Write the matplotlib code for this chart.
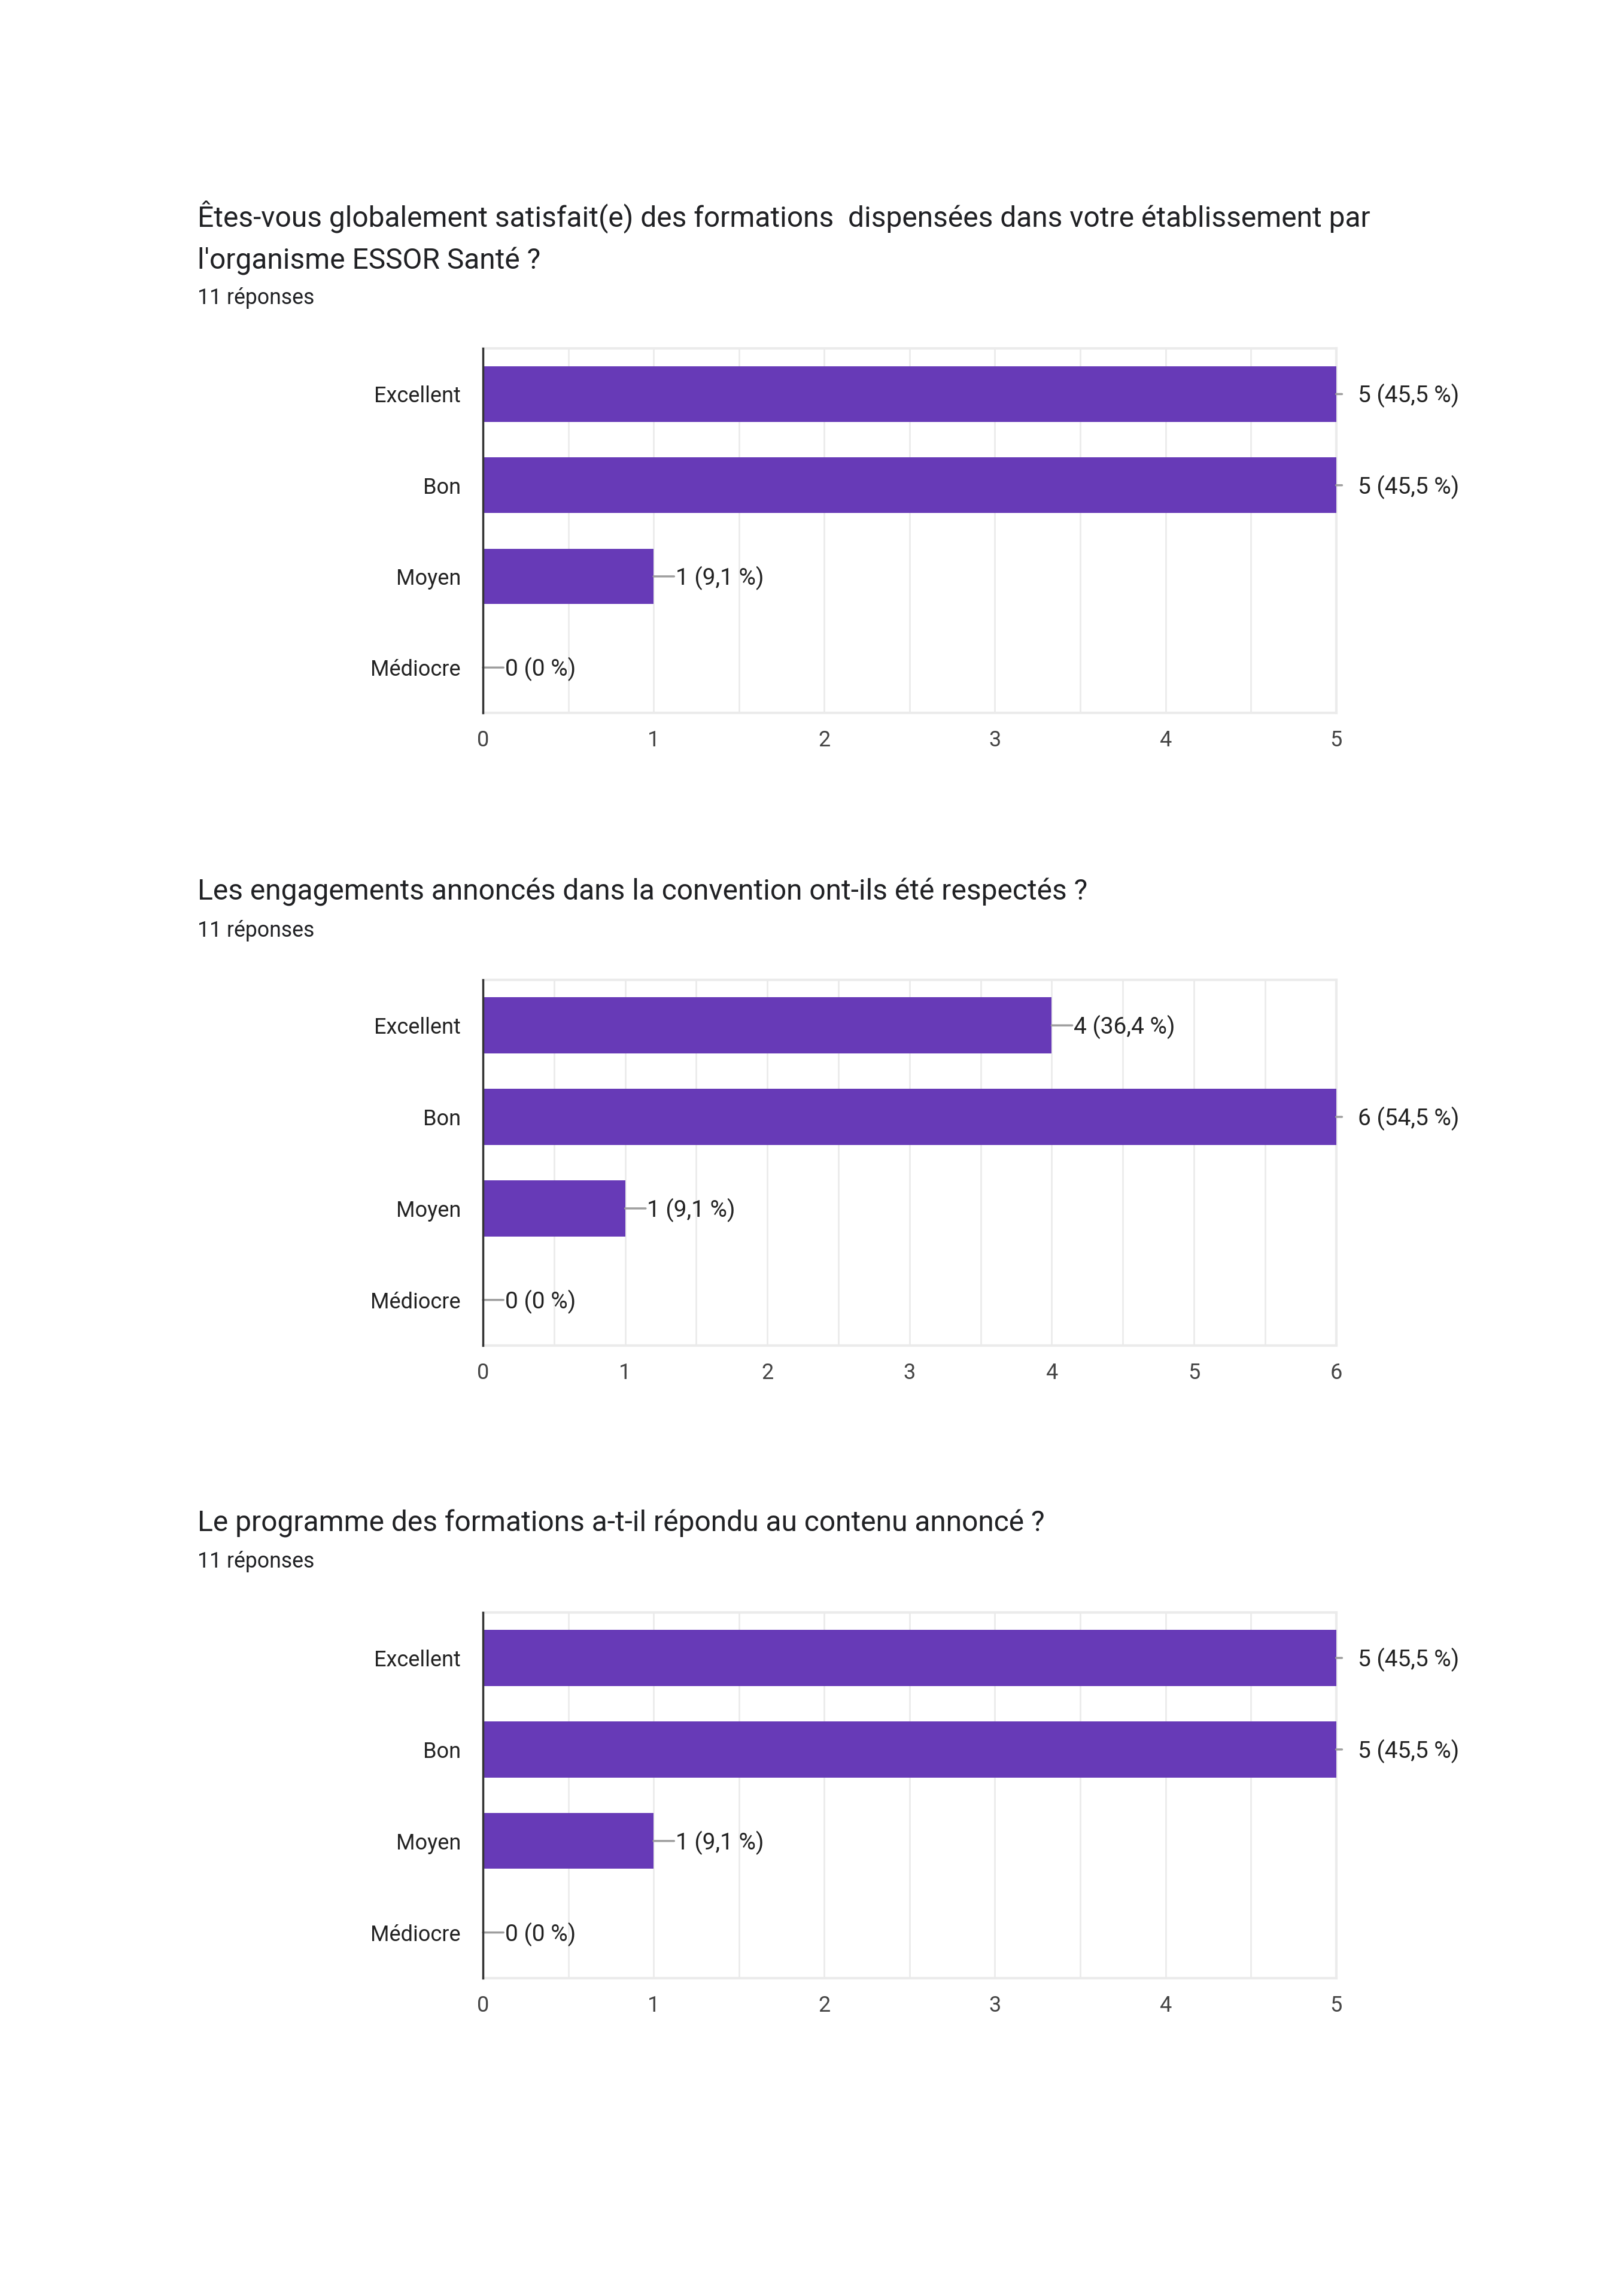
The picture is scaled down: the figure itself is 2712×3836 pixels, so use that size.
import matplotlib
matplotlib.use("Agg")
import matplotlib.pyplot as plt
from matplotlib.ticker import MultipleLocator

plt.rcParams['font.family'] = ['Roboto', 'DejaVu Sans']

categories = ["Excellent", "Bon", "Moyen", "Médiocre"]
titles = [
    ["Êtes-vous globalement satisfait(e) des formations  dispensées dans votre établissement par",
     "l'organisme ESSOR Santé ?"],
    ["Les engagements annoncés dans la convention ont-ils été respectés ?"],
    ["Le programme des formations a-t-il répondu au contenu annoncé ?"],
]
responses = ["11 réponses", "11 réponses", "11 réponses"]
values_q1 = [5, 5, 1, 0]
values_q2 = [4, 6, 1, 0]
values_q3 = [5, 5, 1, 0]
pct_q1 = ["45,5", "45,5", "9,1", "0"]
pct_q2 = ["36,4", "54,5", "9,1", "0"]
pct_q3 = ["45,5", "45,5", "9,1", "0"]
xmax_list = [5, 6, 5]

W, H = 2712, 3836
SW, SH = 1109, 1568  # reference preview coordinates
fig = plt.figure(figsize=(W / 100, H / 100), dpi=100)
fig.patch.set_facecolor("white")

def fx(x):
    return x / SW

def fy(y):
    return 1 - y / SH

# layout in preview coordinates
blocks = [
    dict(title_y=[148, 178], resp_y=203, top=238, bottom=487),
    dict(title_y=[609], resp_y=635, top=669, bottom=919),
    dict(title_y=[1040], resp_y=1066, top=1101, bottom=1351),
]
left, right = 330, 913
BAR = "#673AB7"
GRID = "#ebebeb"

all_vals = [values_q1, values_q2, values_q3]
all_pct = [pct_q1, pct_q2, pct_q3]

for i, b in enumerate(blocks):
    for line, ty in zip(titles[i], b["title_y"]):
        fig.text(fx(135), fy(ty + 0.3), line, fontsize=34.5, color="#202124",
                 ha="left", va="center")
    fig.text(fx(135), fy(b["resp_y"] + 0.5), responses[i], fontsize=25.7,
             color="#202124", ha="left", va="center")

    ax = fig.add_axes([fx(left), fy(b["bottom"]), fx(right) - fx(left),
                       fy(b["top"]) - fy(b["bottom"])])
    vals = all_vals[i]
    pcts = all_pct[i]
    xmax = xmax_list[i]
    ypos = list(range(len(categories)))
    ax.barh(ypos, vals, height=0.61, color=BAR, zorder=3)
    ax.set_xlim(0, xmax)
    ax.set_ylim(len(categories) - 0.5, -0.5)
    ax.set_yticks(ypos)
    ax.set_yticklabels(categories)
    ax.xaxis.set_major_locator(MultipleLocator(1))
    ax.xaxis.set_minor_locator(MultipleLocator(0.5))
    ax.grid(axis="x", which="both", color=GRID, linewidth=2, zorder=0)
    ax.tick_params(axis="y", length=0, pad=37 * 0.72, labelsize=26,
                   labelcolor="#222222")
    ax.tick_params(axis="x", which="both", length=0, pad=28 * 0.72,
                   labelsize=26, labelcolor="#444444")
    for s in ["top", "right", "bottom"]:
        ax.spines[s].set_color(GRID)
        ax.spines[s].set_linewidth(3)
    ax.spines["left"].set_color("#333333")
    ax.spines["left"].set_linewidth(2.5)
    ax.spines["left"].set_zorder(5)

    px_per_pt = 100 / 72.0
    for y, v, p in zip(ypos, vals, pcts):
        label = f"{v} ({p} %)"
        if v >= xmax:
            seg = 4 * 2.4455 / px_per_pt
        else:
            seg = 14 * 2.4455 / px_per_pt
        off = 15 * 2.4455 / px_per_pt
        ax.annotate("", xy=(v, y), xytext=(seg, 0), textcoords="offset points",
                    arrowprops=dict(arrowstyle="-", color="#9e9e9e", lw=2.5,
                                    shrinkA=0, shrinkB=0),
                    annotation_clip=False, zorder=4)
        ax.annotate(label, xy=(v, y), xytext=(off, -2), textcoords="offset points",
                    ha="left", va="center", fontsize=28, color="#222222",
                    annotation_clip=False)

fig.savefig("out.png", dpi=100, facecolor="white")
